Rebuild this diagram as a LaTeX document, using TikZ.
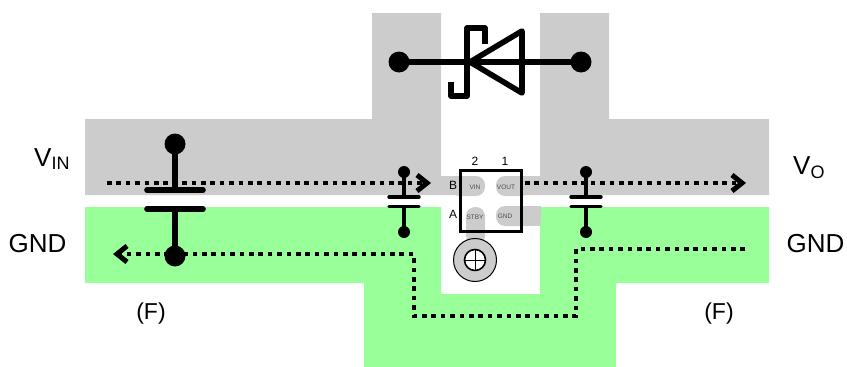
\documentclass[tikz,border=0pt]{standalone}
\usepackage{fontspec}
\setmainfont{Liberation Sans}
\usetikzlibrary{positioning, arrows.meta}
\definecolor{planegrey}{RGB}{204,204,204}
\definecolor{planegreen}{RGB}{153,255,153}
\tikzset{
  bigdot/.style={circle, fill=black, inner sep=0pt, outer sep=0pt, minimum size=21pt},
  smalldot/.style={circle, fill=black, inner sep=0pt, outer sep=0pt, minimum size=12pt},
  wire/.style={draw=black, line width=5.6pt, line join=round},
  thinwire/.style={draw=black, line width=3.4pt},
  current/.style={draw=black, line width=4.6pt, dash pattern=on 4.6pt off 4.8pt, -{Straight Barb[length=10pt, width=16pt, line width=5pt]}},
  biglabel/.style={font=\fontsize{26}{30}\selectfont, inner sep=0pt},
  pinlabel/.style={font=\fontsize{12}{14}\selectfont, inner sep=0pt},
  padlabel/.style={font=\fontsize{6.5}{7}\selectfont, inner sep=0pt, text=black!70}
}
\begin{document}
\begin{tikzpicture}[x=1pt, y=-1pt]
  \useasboundingbox (0,0) rectangle (847,367);
  \fill [planegrey] (85,119) -- (372,119) -- (372,13) -- (441,13) -- (441,176) -- (460,176) -- (460,195) -- (85,195) -- cycle;    % input plane
  \fill [planegrey] (769,119) -- (609,119) -- (609,13) -- (540,13) -- (540,176) -- (521,176) -- (521,195) -- (769,195) -- cycle;   % output plane
  \fill [planegreen] (85,207) -- (441,207) -- (441,294) -- (540,294) -- (540,207) -- (769,207) -- (769,283) -- (616,283) -- (616,367) -- (364,367) -- (364,283) -- (85,283) -- cycle;   % ground plane
  % pads of the chip
  \fill [planegrey, rounded corners=9pt] (450,176) -- (485,176) -- (485,196) -- (450,196) -- cycle;
  \fill [planegrey, rounded corners=9pt] (530,176) -- (496,176) -- (496,196) -- (530,196) -- cycle;
  \fill [planegrey, rounded corners=9pt] (466,245) -- (466,207) -- (485,207) -- (485,245) -- cycle;
  \fill [planegrey, rounded corners=9pt] (541,206) -- (496,206) -- (496,226) -- (541,226) [sharp corners] -- cycle;
  \fill [planegrey] (525,206) rectangle (541,226);
  % via
  \node (via) [circle, draw=black, fill=planegrey, line width=1pt, inner sep=0pt, minimum size=43pt] at (475,260) {};
  \node (viahole) [circle, draw=black, fill=white, line width=1.6pt, inner sep=0pt, minimum size=21pt] at (via.center) {};
  \draw [black, line width=0.8pt] (viahole.north) -- (viahole.south);
  \draw [black, line width=0.8pt] (viahole.west) -- (viahole.east);
  % current paths
  \coordinate (infrom) at (107,183);
  \coordinate (into) at (431,183);
  \coordinate (outfrom) at (525,183);
  \coordinate (outto) at (746,183);
  \coordinate (gndfrom) at (745,249);
  \coordinate (gndto) at (113,254);
  \draw [current] (infrom) -- (into);
  \draw [current] (outfrom) -- (outto);
  \draw [current] (gndfrom) -- (576,249) -- (576,316) -- (414,316) -- (414,254) -- (gndto);
  % chip
  \node (chip) [draw=black, line width=3pt, inner sep=0pt, minimum width=61pt, minimum height=61pt] at (490.5,200.5) {};
  \node (vin) [padlabel] at (475,187) {VIN};
  \node (vout) [padlabel] at (506,187) {VOUT};
  \node (stby) [padlabel] at (475,217) {STBY};
  \node (gnd) [padlabel] at (505,216) {GND};
  \node (pintwo) [pinlabel] at (475,161) {2};
  \node (pinone) [pinlabel] at (505,161) {1};
  \node (rowb) [pinlabel] at (453,185) {B};
  \node (rowa) [pinlabel] at (453,214) {A};
  % input capacitor
  \node (cintop) [bigdot] at (175,144) {};
  \node (cinbot) [bigdot] at (175,256) {};
  \coordinate (cinup) at (175,190);
  \coordinate (cindown) at (175,209);
  \draw [wire] (cintop.center) -- (cinup);
  \draw [wire] (cinbot.center) -- (cindown);
  \draw [wire, line cap=round] (147,190) -- (203,190);
  \draw [wire, line cap=round] (147,209) -- (203,209);
  % small capacitors
  \foreach \name/\xpos in {cleft/404, cright/586}{
    \node (\name top) [smalldot] at (\xpos,172) {};
    \node (\name bot) [smalldot] at (\xpos,232) {};
    \coordinate (\name up) at (\xpos,197);
    \coordinate (\name down) at (\xpos,206.5);
    \draw [thinwire] (\name top.center) -- (\name up);
    \draw [thinwire] (\name bot.center) -- (\name down);
    \draw [thinwire, line cap=round] (\xpos-15,197) -- (\xpos+15,197);
    \draw [thinwire, line cap=round] (\xpos-15,206.5) -- (\xpos+15,206.5);
  }
  % diode
  \node (anode) [bigdot] at (399,62) {};
  \node (cathode) [bigdot] at (581,62) {};
  \draw [wire] (anode.center) -- (cathode.center);
  \draw [wire] (470,62) -- (522,31) -- (522,93) -- cycle;
  \draw [wire] (485,44) -- (485,28) -- (467,28) -- (467,96) -- (451,96) -- (451,82);
  % labels
  \node (vinlabel) [biglabel, anchor=base west] at (34,166) {V\textsubscript{\fontsize{18}{20}\selectfont IN}};
  \node (volabel) [biglabel, anchor=base west] at (793,174) {V\textsubscript{\fontsize{18}{20}\selectfont O}};
  \node (gndleft) [biglabel, anchor=base] at (37.5,252) {GND};
  \node (gndright) [biglabel, anchor=base] at (815.5,252) {GND};
  \node (fleft) [font=\fontsize{23}{28}\selectfont, inner sep=0pt] at (151,314) {(F)};
  \node (fright) [font=\fontsize{23}{28}\selectfont, inner sep=0pt] at (719,314) {(F)};
\end{tikzpicture}
\end{document}
